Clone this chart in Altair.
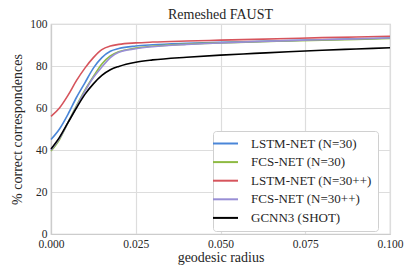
import altair as alt
import pandas as pd

radius = [0, 0.0025, 0.005, 0.0075, 0.01, 0.0125, 0.015, 0.0175, 0.02, 0.025,
          0.03, 0.04, 0.05, 0.06, 0.07, 0.08, 0.09, 0.1]

series_names = ["LSTM-NET (N=30)", "FCS-NET (N=30)", "LSTM-NET (N=30++)",
                "FCS-NET (N=30++)", "GCNN3 (SHOT)"]

lstm_30 = [45, 50, 57, 65, 72, 79, 84, 87, 88.3, 89.5, 90.1, 90.8, 91.3, 91.7, 92.1, 92.5, 92.9, 93.3]
fcs_30 = [39.5, 45, 53, 61, 68.5, 75, 81, 84.8, 86.8, 88.5, 89.4, 90.4, 91, 91.5, 91.9, 92.3, 92.7, 93.1]
lstm_30pp = [56, 60, 66, 73, 79, 84, 87.8, 89.5, 90.3, 91, 91.4, 91.9, 92.3, 92.7, 93.1, 93.5, 93.8, 94.2]
fcs_30pp = [40, 45.5, 53, 60.5, 68, 74.5, 79.5, 84, 86.5, 88.2, 89.2, 90.3, 91, 91.6, 92.1, 92.5, 92.9, 93.3]
gcnn3 = [40.5, 46, 53, 60, 66.5, 71.5, 75.5, 78.2, 79.8, 81.8, 82.9, 84.2, 85.2, 86, 86.8, 87.5, 88.1, 88.7]

colors = ["#4a86d8", "#8eba42", "#d6545c", "#988ed5", "#000000"]

rows = []
for name, vals in zip(series_names, [lstm_30, fcs_30, lstm_30pp, fcs_30pp, gcnn3]):
    for r, v in zip(radius, vals):
        rows.append({"radius": r, "value": v, "series": name,
                     "order": series_names.index(name)})
df = pd.DataFrame(rows)

FONT = "Liberation Serif"
TXT = "#262626"

chart = alt.Chart(df).mark_line(strokeWidth=1.6, interpolate="monotone").encode(
    x=alt.X("radius:Q", title="geodesic radius",
            scale=alt.Scale(domain=[0, 0.1], nice=False),
            axis=alt.Axis(values=[0, 0.025, 0.05, 0.075, 0.1], format=".3f",
                          ticks=False, labelPadding=4, titlePadding=1,
                          labelFlush=False, labelOverlap=False)),
    y=alt.Y("value:Q", title="% correct correspondences",
            scale=alt.Scale(domain=[0, 100], nice=False),
            axis=alt.Axis(values=[0, 20, 40, 60, 80, 100], ticks=False,
                          labelPadding=4, titlePadding=5, labelFlush=False)),
    color=alt.Color("series:N", sort=series_names,
                    scale=alt.Scale(domain=series_names, range=colors),
                    legend=alt.Legend(title=None, orient="none", legendX=162, legendY=107,
                                      symbolType="M-2.5,0L2.5,0", symbolSize=100,
                                      symbolStrokeWidth=2, labelFontSize=13,
                                      labelFont=FONT, labelColor=TXT,
                                      rowPadding=4.6, labelOffset=19,
                                      padding=6, fillColor="white",
                                      strokeColor="#d0d0d0", cornerRadius=3)),
    order=alt.Order("order:Q"),
).properties(
    width=339, height=210,
    title=alt.TitleParams("Remeshed FAUST", font=FONT, fontSize=14,
                          fontWeight="normal", color=TXT, offset=-4),
    autosize=alt.AutoSizeParams(type="none"),
    padding={"left": 43, "top": 16, "right": 17, "bottom": 35},
).configure_view(
    stroke="#cccccc", strokeWidth=1.2
).configure_axis(
    labelFont=FONT, titleFont=FONT, labelFontSize=11.5, titleFontSize=14,
    titleFontWeight="normal", labelColor=TXT, titleColor=TXT,
    gridColor="#dddddd", gridWidth=1.2, domainColor="#cccccc", domainWidth=1.2,
)

chart.save("out.html", embed_options={"renderer": "svg", "actions": False})
